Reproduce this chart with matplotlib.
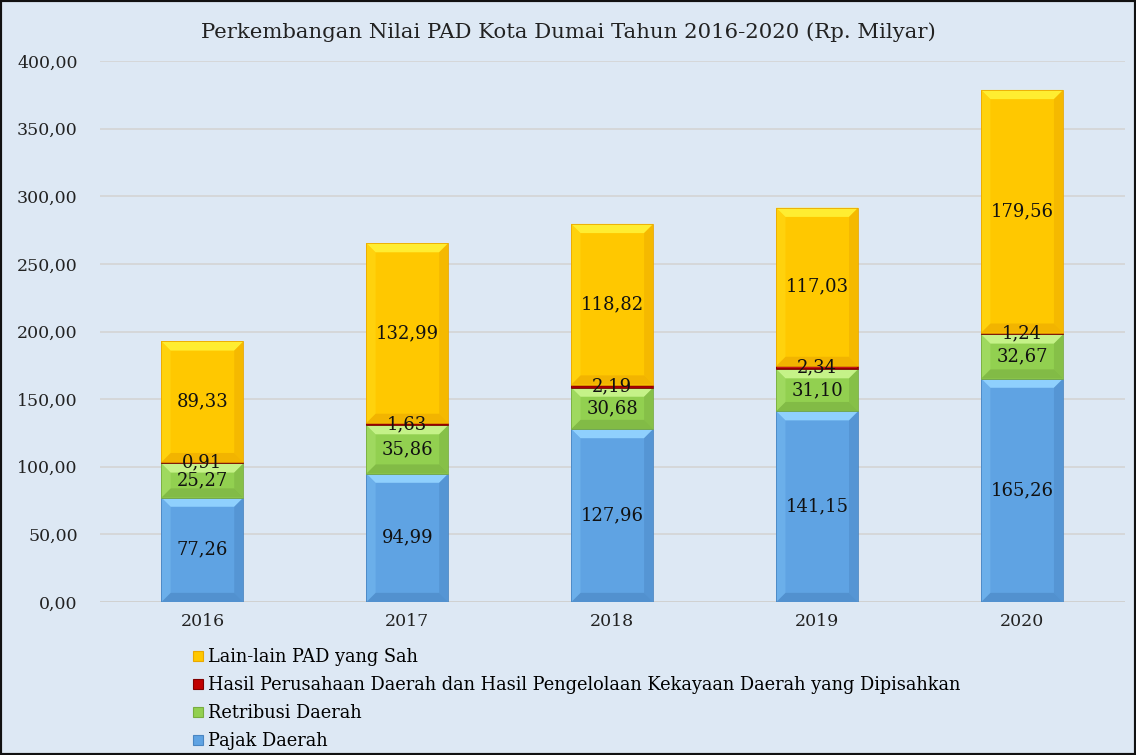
import matplotlib.pyplot as plt
from matplotlib.patches import Polygon, Rectangle
from matplotlib.lines import Line2D

years = ["2016", "2017", "2018", "2019", "2020"]
pajak = [77.26, 94.99, 127.96, 141.15, 165.26]
retribusi = [25.27, 35.86, 30.68, 31.10, 32.67]
hasil = [0.91, 1.63, 2.19, 2.34, 1.24]
lain = [89.33, 132.99, 118.82, 117.03, 179.56]

series = [
    ("Pajak Daerah", pajak, "#5fa3e3", "#92d3ff", "#4a86c2"),
    ("Retribusi Daerah", retribusi, "#92d050", "#c8f58c", "#78ad40"),
    ("Hasil Perusahaan Daerah dan Hasil Pengelolaan Kekayaan Daerah yang Dipisahkan",
     hasil, "#c00000", "#ff4040", "#800000"),
    ("Lain-lain PAD yang Sah", lain, "#ffc800", "#fff034", "#eaa800"),
]

plt.rcParams["font.family"] = ["DejaVu Serif"]
bg = "#dde8f4"

fig = plt.figure(figsize=(11.36, 7.55), dpi=100, facecolor=bg)
ax = fig.add_axes([0.088, 0.2026, 0.902, 0.7164])
ax.set_facecolor(bg)

width = 0.4


def bevel_bar(ax, x, y0, h, face, light, dark):
    x0, x1 = x - width / 2, x + width / 2
    y1 = y0 + h
    dy = min(6.8, h / 2)
    dx = 0.045 * dy / 6.8 if dy < 6.8 else 0.045
    ax.add_patch(Rectangle((x0, y0), width, h, facecolor=face, edgecolor="none", zorder=3))
    pieces = [
        ([(x0, y1), (x1, y1), (x1 - dx, y1 - dy), (x0 + dx, y1 - dy)], light, 0.95),
        ([(x0, y0), (x1, y0), (x1 - dx, y0 + dy), (x0 + dx, y0 + dy)], dark, 0.6),
        ([(x0, y0), (x0 + dx, y0 + dy), (x0 + dx, y1 - dy), (x0, y1)], light, 0.25),
        ([(x1, y0), (x1 - dx, y0 + dy), (x1 - dx, y1 - dy), (x1, y1)], dark, 0.45),
    ]
    for pts, c, a in pieces:
        ax.add_patch(Polygon(pts, closed=True, facecolor=c, edgecolor="none", alpha=a, zorder=3))
    ax.add_patch(Rectangle((x0, y0), width, h, facecolor="none", edgecolor=dark,
                           linewidth=0.6, zorder=4))


bottoms = [0.0] * len(years)
for name, vals, face, light, dark in series:
    for i, v in enumerate(vals):
        bevel_bar(ax, i, bottoms[i], v, face, light, dark)
        label = f"{v:.2f}".replace(".", ",")
        ax.text(i, bottoms[i] + v / 2, label, ha="center", va="center",
                fontsize=13, color="#111111", zorder=5)
        bottoms[i] += v

ax.set_xlim(-0.5, len(years) - 0.5)
ax.set_ylim(0, 400)
ax.set_yticks(range(0, 401, 50))
ax.set_yticklabels([f"{t},00" for t in range(0, 401, 50)])
ax.set_xticks(range(len(years)))
ax.set_xticklabels(years)
ax.tick_params(axis="both", length=0, labelsize=12.5, colors="#222222")
ax.tick_params(axis="y", pad=16)
ax.tick_params(axis="x", pad=8)
ax.grid(axis="y", color="#d4d4d4", linewidth=1.2, zorder=0)
ax.set_axisbelow(True)
for s in ax.spines.values():
    s.set_visible(False)
ax.axhline(0, color="#d0d0d0", linewidth=1.2, zorder=1)

fig.text(0.5, 0.958, "Perkembangan Nilai PAD Kota Dumai Tahun 2016-2020 (Rp. Milyar)",
         ha="center", va="center", fontsize=15.3, color="#222222")

handles = [Line2D([], [], linestyle="none", marker="s", markersize=7,
                  markerfacecolor=face, markeredgecolor=dark, markeredgewidth=0.8)
           for _, _, face, _, dark in series[::-1]]
names = [s[0] for s in series[::-1]]
fig.legend(handles, names, loc="upper left", bbox_to_anchor=(0.162, 0.153),
           frameon=False, fontsize=12.8, handlelength=0.6, handletextpad=0.25,
           labelspacing=0.56, borderpad=0)

fig.add_artist(Rectangle((0, 0), 1, 1, transform=fig.transFigure, fill=False,
                         edgecolor="#111111", linewidth=3))

fig.savefig("out.png", dpi=100, facecolor=bg)
